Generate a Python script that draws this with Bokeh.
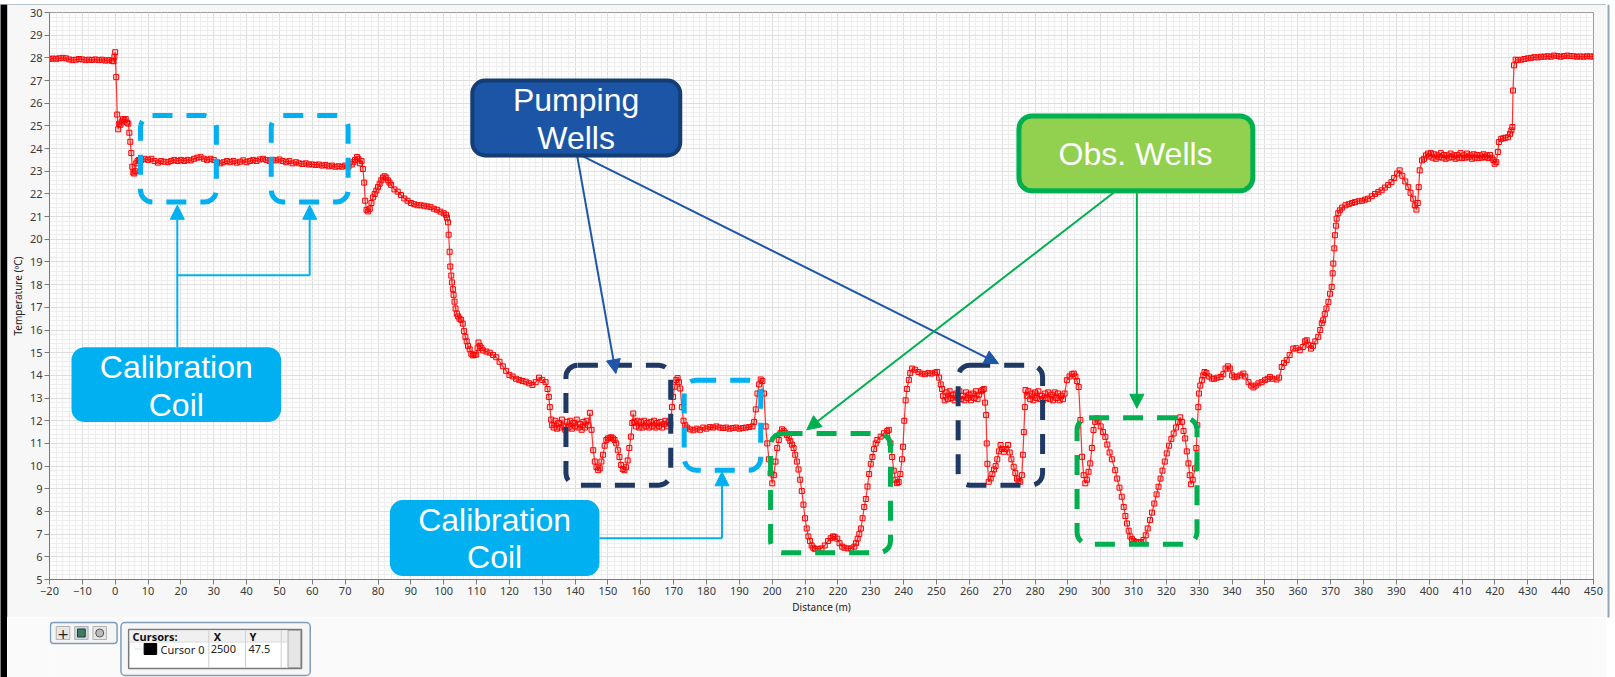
from bokeh.plotting import figure
from bokeh.models import Range1d, SingleIntervalTicker, BoxAnnotation, Label, Arrow, NormalHead
from bokeh.layouts import column, row
from bokeh.embed import file_html
from bokeh.resources import INLINE
from bokeh.core.properties import value

# ---------------- DTS temperature profile ----------------
# lead-in (-20 m .. 7.6 m)
dist_a = [-20, -19, -18, -17, -16, -15, -14, -13, -12, -11,
          -10, -9, -8, -7, -6, -5, -4, -3, -2, -1,
          -0.5, -0.25, 0, 0.3, 0.6, 0.9, 1.2, 1.6, 2.0, 2.4,
          2.8, 3.2, 3.6, 4.0, 4.3, 4.6, 4.9, 5.2, 5.5, 5.8,
          6.1, 6.4, 6.8, 7.2, 7.6]
temp_a = [27.95, 27.97, 27.96, 27.98, 28.0, 27.98, 27.93, 27.9, 27.92, 27.95,
          27.93, 27.9, 27.92, 27.91, 27.93, 27.9, 27.92, 27.88, 27.9, 27.87,
          27.85, 28.05, 28.25, 27.15, 25.5, 24.85, 25.1, 25.05, 25.2, 25.3,
          25.25, 25.3, 25.15, 25.1, 24.7, 24.3, 23.8, 23.2, 22.95, 22.9,
          23.0, 23.35, 23.45, 23.5, 23.45]
# calibration coil plateau (8 m .. 72 m)
dist_b = [8, 9, 10, 11, 12, 13, 14, 15, 16, 17,
          18, 19, 20, 21, 22, 23, 24, 25, 26, 27,
          28, 29, 30, 31, 32, 33, 34, 35, 36, 37,
          38, 39, 40, 41, 42, 43, 44, 45, 46, 47,
          48, 49, 50, 51, 52, 53, 54, 55, 56, 57,
          58, 59, 60, 61, 62, 63, 64, 65, 66, 67,
          68, 69, 70, 71, 72]
temp_b = [23.5, 23.55, 23.5, 23.55, 23.45, 23.38, 23.45, 23.42, 23.4, 23.45,
          23.5, 23.45, 23.5, 23.45, 23.5, 23.48, 23.55, 23.6, 23.62, 23.55,
          23.5, 23.55, 23.5, 23.4, 23.35, 23.4, 23.45, 23.4, 23.45, 23.38,
          23.42, 23.48, 23.4, 23.45, 23.5, 23.45, 23.52, 23.55, 23.5, 23.45,
          23.5, 23.48, 23.52, 23.45, 23.4, 23.45, 23.35, 23.4, 23.35, 23.32,
          23.35, 23.3, 23.3, 23.28, 23.3, 23.25, 23.28, 23.22, 23.25, 23.2,
          23.22, 23.2, 23.25, 23.2, 23.3]
# descent (72.5 m .. 132.7 m)
dist_c = [72.5, 73, 73.6, 74, 74.5, 75, 75.4, 75.8, 76.1, 76.5,
          77, 77.5, 78, 78.5, 79, 79.5, 80, 80.5, 81, 81.5,
          82, 82.5, 83, 83.5, 84, 85, 86, 87, 88, 89,
          90, 91, 92, 93, 94, 95, 96, 97, 98, 99,
          100, 100.7, 101, 101.3, 101.5, 101.8, 102, 102.3, 102.5, 102.8,
          103, 103.3, 103.6, 104, 104.4, 104.8, 105.3, 105.8, 106.2, 106.6,
          107, 107.4, 107.9, 108.4, 108.9, 109.4, 109.9, 110.3, 110.6, 111,
          111.5, 112, 113, 114, 115, 116, 117, 118, 119, 120,
          121, 122, 123, 124, 125, 126, 127, 128, 129, 130,
          131, 131.6, 132, 132.3, 132.7]
temp_c = [23.4, 23.5, 23.63, 23.55, 23.35, 23.45, 23.1, 22.5, 21.7, 21.3,
          21.23, 21.35, 21.6, 21.85, 22.0, 22.15, 22.3, 22.45, 22.6, 22.72,
          22.78, 22.72, 22.6, 22.5, 22.4, 22.2, 22.1, 21.95, 21.8, 21.7,
          21.6, 21.55, 21.5, 21.5, 21.48, 21.45, 21.42, 21.35, 21.3, 21.22,
          21.15, 21.08, 20.95, 20.75, 20.2, 19.45, 18.8, 18.4, 18.1, 17.8,
          17.55, 17.25, 16.95, 16.72, 16.6, 16.5, 16.45, 16.28, 15.95, 15.7,
          15.5, 15.3, 15.15, 14.95, 14.88, 14.9, 14.92, 15.2, 15.45, 15.3,
          15.2, 15.1, 15.05, 15.0, 14.9, 14.8, 14.6, 14.4, 14.2, 14.02,
          13.95, 13.85, 13.8, 13.75, 13.72, 13.65, 13.58, 13.7, 13.9, 13.8,
          13.7, 13.4, 13.05, 12.6, 12.05]
# pumping well 1 (133 m .. 173.5 m)
dist_d = [133, 133.5, 134, 134.5, 135, 135.5, 136, 136.5, 137, 137.5,
          138, 138.5, 139, 139.5, 140, 140.5, 141, 141.5, 142, 142.5,
          143, 143.5, 144, 144.5,
          145, 145.5, 146, 146.5, 147, 147.5, 148, 148.5, 149, 149.5,
          150, 150.5, 151, 151.5, 152, 152.5, 153, 153.5, 154, 154.5,
          155, 155.5, 156, 156.5, 157,
          157.4, 157.7,
          158, 158.5, 159, 159.5, 160, 160.5, 161, 161.5, 162, 162.5,
          163, 163.5, 164, 164.5, 165, 165.5, 166, 166.5, 167, 167.5,
          168, 168.5, 169,
          169.5, 169.8, 170.3, 170.8, 171.2, 171.6, 172, 172.5, 173, 173.5]
temp_d = [11.8, 11.7, 12.0, 11.65, 11.9, 11.7, 12.05, 11.75, 11.6, 11.95,
          11.7, 12.0, 11.65, 11.9, 11.75, 12.05, 11.7, 11.85, 11.6, 11.95,
          11.7, 12.0, 11.8, 12.35,
          11.6, 10.7, 10.2, 9.95, 9.82, 9.9, 10.2, 10.5, 10.9, 11.15,
          11.22, 11.25, 11.27, 11.22, 11.15, 11.0, 10.7, 10.4, 10.05, 9.87,
          9.82, 9.95, 10.25, 10.8, 11.3,
          11.9, 12.32,
          11.95, 11.75, 12.0, 11.7, 11.95, 11.7, 12.0, 11.75, 11.9, 11.7,
          11.95, 11.75, 12.0, 11.7, 11.9, 11.75, 11.95, 11.7, 11.85, 12.0,
          11.75, 11.95, 11.85,
          12.6, 13.05, 13.5, 13.8, 13.88, 13.7, 13.42, 12.6, 12.0, 11.8]
# calibration coil 2 and observation well 1 (174 m .. 251.3 m)
dist_e = [174, 175, 176, 177, 178, 179, 180, 181, 182, 183,
          184, 185, 186, 187, 188, 189, 190, 191, 192, 193,
          194,
          194.5, 195, 195.5, 196, 196.5, 197, 197.5, 198, 198.5, 199,
          199.5, 200, 200.5, 201, 201.5, 202, 202.5, 203, 203.5, 204,
          204.5, 205, 205.5, 206, 206.5, 207, 207.5, 208, 208.5, 209,
          209.5, 210, 210.5, 211, 211.5, 212, 212.5, 213, 214, 215,
          216, 217, 217.8, 218.5, 219, 219.8, 220.5, 221.3, 222, 223,
          224, 225, 225.5, 226, 226.5, 227, 227.5, 228, 228.5, 229,
          229.5, 230, 230.5, 231, 231.5, 232, 233, 234, 235, 235.5,
          236, 236.5, 237, 237.5, 238, 238.5, 239, 239.5, 239.8, 240.2,
          240.6, 241, 241.6, 242, 242.6, 243.5, 244.5, 245.5, 246.5, 247.5,
          248.5, 249.5, 250.2, 250.8, 251.3]
temp_e = [11.7, 11.62, 11.58, 11.65, 11.6, 11.7, 11.65, 11.72, 11.7, 11.75,
          11.7, 11.68, 11.7, 11.65, 11.68, 11.7, 11.65, 11.68, 11.7, 11.72,
          11.75,
          11.95, 12.5, 13.2, 13.6, 13.82, 13.75, 13.2, 11.75, 11.0, 10.3,
          9.68, 9.24, 9.6, 10.2, 10.8, 11.15, 11.45, 11.62, 11.55, 11.45,
          11.37, 11.25, 11.1, 10.95, 10.8, 10.5, 10.2, 9.85, 9.4, 8.9,
          8.3, 7.7, 7.25, 6.9, 6.7, 6.5, 6.4, 6.35, 6.35, 6.37,
          6.5, 6.7, 6.82, 6.9, 6.88, 6.8, 6.6, 6.45, 6.4, 6.37,
          6.37, 6.45, 6.6, 6.8, 7.0, 7.25, 7.7, 8.2, 8.55, 9.1,
          9.65, 10.1, 10.4, 10.75, 11.0, 11.15, 11.3, 11.45, 11.55, 11.6,
          11.0, 10.4, 9.8, 9.4, 9.25, 9.3, 9.65, 10.3, 10.85, 12.0,
          12.9, 13.4, 13.8, 14.1, 14.3, 14.25, 14.15, 14.08, 14.05, 14.1,
          14.08, 14.12, 14.15, 13.9, 13.6]
# pumping well 2 (251.7 m .. 289 m)
dist_f = [251.7,
          252, 252.5, 253, 253.5, 254, 254.5, 255, 255.5, 256, 256.5,
          257, 257.5, 258, 258.5, 259, 259.5, 260, 260.5, 261, 261.5,
          262, 262.5, 263, 263.5, 264,
          264.4, 264.8, 265.1, 265.3, 265.5, 265.9, 266.5, 267, 267.5, 268,
          268.5, 269, 269.5, 270, 270.5, 271, 271.8, 272.3, 272.8, 273.5,
          274, 274.5, 275, 275.5, 276, 276.3, 276.6, 276.9, 277.1,
          277.5, 278, 278.5, 279, 279.5, 280, 280.5, 281, 281.5, 282,
          282.5, 283, 283.5, 284, 284.5, 285, 285.5, 286, 286.5, 287,
          287.5, 288, 288.5, 289]
temp_f = [13.4,
          13.1, 12.9, 13.25, 12.95, 13.3, 13.0, 13.15, 12.9, 13.2, 13.0,
          13.3, 12.95, 13.1, 12.9, 13.25, 13.0, 13.15, 12.9, 13.2, 13.0,
          13.3, 12.95, 13.15, 13.3, 13.35,
          13.4, 12.8, 12.25, 11.0, 10.1, 9.31, 9.45, 9.65, 9.85, 10.0,
          10.3, 10.65, 10.93, 10.75, 10.63, 10.75, 10.93, 10.6, 10.3, 9.97,
          9.7, 9.45, 9.35, 9.31, 9.6, 10.5, 11.5, 12.6, 13.35,
          13.1, 13.3, 12.95, 13.2, 12.9, 13.25, 13.0, 13.3, 12.95, 13.1,
          12.9, 13.2, 13.0, 13.25, 12.95, 13.15, 12.9, 13.25, 13.0, 13.2,
          12.9, 13.1, 12.95, 13.2]
# observation well 2 and the rise (289.7 m .. 399 m)
dist_g = [289.7, 290.5, 291.2, 291.8, 292.3, 292.8, 293.3, 293.8, 294.3, 294.8,
          295.3, 295.8, 296.3, 296.8, 297.3, 297.8, 298.3, 298.8, 299.3, 300,
          300.7, 301.4, 302, 302.7, 303.4, 304.4, 305, 305.7, 306.4, 307,
          307.5, 308, 308.5, 309, 309.5, 310, 310.7, 311.5, 312.2, 313,
          313.7, 314.3, 315, 315.6, 316.3, 317, 317.6, 318.2, 318.8, 319.5,
          320.1, 320.8, 321.5, 322.2, 322.9, 323.5, 324.2, 324.7, 325.2, 325.7,
          326.2, 326.7, 327.1, 327.5, 328, 328.7, 329.1, 329.4, 329.7, 329.9,
          330.3, 330.8, 331.2, 331.6, 332.2, 333, 333.8, 334.5, 335.5, 336.5,
          337.3, 338, 338.7, 339.3, 340, 340.7, 341.5, 342.5, 343.4, 344,
          345, 345.8, 346.5, 347.2, 348, 349, 350, 350.8, 351.5, 352.3,
          353.5, 354.3, 355.1, 355.8, 356.6, 357.5, 358.6, 359.5, 360.6, 361.5,
          362.2, 362.7, 363.3, 364, 364.6, 365.3, 366.2, 366.8, 367.3, 367.7,
          368.2, 368.7, 369.3, 369.8, 370.3, 370.6, 370.8, 371.1, 371.3, 371.6,
          371.8, 372.3, 372.8, 373.5, 374.5, 375.5, 376.5, 377.4, 378.5, 379.5,
          380.5, 381.4, 382.5, 383.5, 384.5, 385.5, 386.5, 387.5, 388.5, 389.3,
          390.2, 391, 391.8, 392.7, 393.6, 394.3, 395.1, 395.6, 396.1, 396.5,
          396.8, 397.1, 397.8, 398.4, 399]
temp_g = [13.79, 13.95, 14.05, 14.08, 13.95, 13.75, 13.49, 12.03, 10.41, 9.6,
          9.24, 9.4, 9.75, 10.12, 10.8, 11.59, 11.95, 12.1, 12.0, 11.75,
          11.5, 11.29, 10.95, 10.6, 10.3, 9.82, 9.45, 9.05, 8.65, 8.2,
          7.8, 7.47, 7.15, 6.9, 6.78, 6.7, 6.65, 6.62, 6.65, 6.74,
          6.95, 7.25, 7.62, 7.95, 8.35, 8.75, 9.09, 9.45, 9.8, 10.2,
          10.56, 10.9, 11.2, 11.44, 11.7, 11.95, 12.15, 11.95, 11.55, 11.22,
          10.65, 10.12, 9.6, 9.2, 9.4, 9.9, 10.8, 11.8, 12.6, 13.2,
          13.55, 13.79, 14.0, 14.15, 14.1, 13.95, 13.86, 13.85, 13.9, 13.93,
          14.05, 14.3, 14.4, 14.3, 14.0, 13.92, 13.95, 14.0, 14.08, 13.95,
          13.7, 13.55, 13.47, 13.55, 13.65, 13.7, 13.79, 13.85, 13.93, 13.85,
          13.82, 13.9, 14.37, 14.55, 14.67, 14.9, 15.18, 15.2, 15.11, 15.25,
          15.5, 15.55, 15.35, 15.18, 15.3, 15.5, 15.7, 16.0, 16.3, 16.43,
          16.7, 16.95, 17.24, 17.6, 17.9, 18.5, 18.93, 19.6, 20.18, 20.6,
          20.91, 21.15, 21.28, 21.4, 21.5, 21.55, 21.6, 21.64, 21.68, 21.7,
          21.75, 21.79, 21.9, 22.0, 22.08, 22.16, 22.28, 22.4, 22.52, 22.7,
          22.9, 23.04, 22.8, 22.55, 22.3, 22.05, 21.79, 21.5, 21.31, 21.6,
          22.3, 23.04, 23.48, 23.55, 23.7]
# far-end calibration plateau and lead-out (399.6 m .. 450 m)
dist_h = [399.6,
          400, 400.5, 401, 401.5, 402, 402.5, 403, 403.5, 404, 404.5,
          405, 405.5, 406, 406.5, 407, 407.5, 408, 408.5, 409, 409.5,
          410, 410.5, 411, 411.5, 412, 412.5, 413, 413.5, 414, 414.5,
          415, 415.5, 416, 416.5, 417, 417.5, 418, 418.5, 419, 419.5,
          419.9, 420.4, 420.9, 421.2, 421.9, 422.5, 423.2, 424, 424.6, 425,
          425.3, 425.5, 425.8, 426.3,
          427, 428, 429, 430, 431, 432, 433, 434, 435, 436,
          437, 438, 439, 440, 441, 442, 443, 444, 445, 446,
          447, 448, 449, 450]
temp_h = [23.78,
          23.65, 23.8, 23.6, 23.75, 23.55, 23.7, 23.62, 23.8, 23.6, 23.72,
          23.55, 23.7, 23.6, 23.78, 23.62, 23.7, 23.55, 23.72, 23.6, 23.8,
          23.58, 23.7, 23.6, 23.78, 23.62, 23.7, 23.55, 23.75, 23.6, 23.72,
          23.58, 23.7, 23.6, 23.75, 23.62, 23.7, 23.58, 23.72, 23.6, 23.5,
          23.33, 23.4, 23.85, 24.29, 24.43, 24.45, 24.48, 24.5, 24.65, 24.8,
          24.95, 26.56, 27.67, 27.92,
          27.9, 27.92, 27.95, 27.98, 28.0, 28.03, 28.02, 28.05, 28.05, 28.07,
          28.05, 28.1, 28.08, 28.05, 28.08, 28.1, 28.08, 28.07, 28.05, 28.06,
          28.05, 28.07, 28.06, 28.06]

segments = [(dist_a, temp_a), (dist_b, temp_b), (dist_c, temp_c), (dist_d, temp_d),
            (dist_e, temp_e), (dist_f, temp_f), (dist_g, temp_g), (dist_h, temp_h)]
distance_m, temperature_c = [], []
for i, (ds, ts) in enumerate(segments):
    assert len(ds) == len(ts), ("segment", i, len(ds), len(ts))
    distance_m += ds
    temperature_c += ts

# ---------------- annotations (data coordinates) ----------------
x_ticks_interval = 10
y_ticks_interval = 1

# dashed highlight boxes: left, right, bottom, top
calib_boxes = [(7.7, 30.8, 21.64, 25.46), (47.5, 70.9, 21.64, 25.46), (173.2, 196.5, 9.82, 13.79)]
pump_boxes = [(137.2, 169.1, 9.16, 14.45), (256.6, 282.3, 9.16, 14.45)]
obs_boxes = [(199.5, 236.0, 6.18, 11.44), (292.8, 329.3, 6.55, 12.13)]

# callout boxes: left, right, bottom, top, fill, border, border width
callout_boxes = [(-13.3, 50.5, 11.94, 15.24, "#00b0f0", None, 0),
                 (83.6, 147.4, 5.15, 8.5, "#00b0f0", None, 0),
                 (108.7, 172.0, 23.7, 27.0, "#1d55a6", "#133d73", 4),
                 (275.1, 346.3, 22.14, 25.44, "#92d050", "#00b050", 5)]
callout_texts = ["Calibration", "Coil", "Calibration", "Coil", "Pumping", "Wells", "Obs. Wells"]
callout_text_x = [18.6, 18.6, 115.5, 115.5, 140.3, 140.3, 310.6]
callout_text_y = [14.37, 12.70, 7.63, 5.99, 26.16, 24.47, 23.75]

# connector lines: x0, y0, x1, y1, colour, arrow head?
connectors = [(18.9, 15.24, 18.9, 21.5, "#00b0f0", True),
              (18.9, 18.41, 59.2, 18.41, "#00b0f0", False),
              (59.2, 18.41, 59.2, 21.5, "#00b0f0", True),
              (147.4, 6.82, 184.7, 6.82, "#00b0f0", False),
              (184.7, 6.82, 184.7, 9.75, "#00b0f0", True),
              (140.6, 23.7, 152.4, 14.08, "#1f56a8", True),
              (141.8, 23.7, 268.9, 14.52, "#1f56a8", True),
              (304.3, 22.1, 210.5, 11.6, "#00b050", True),
              (311.0, 22.1, 311.0, 12.55, "#00b050", True)]

cursor_names = ["Cursor 0"]
cursor_x = ["2500"]
cursor_y = ["47.5"]


def strip(w, h, color):
    s = figure(width=w, height=h, toolbar_location=None, output_backend="svg", min_border=0,
               x_axis_location=None, y_axis_location=None,
               background_fill_color=color, border_fill_color=color)
    s.outline_line_color = None
    s.grid.visible = False
    return s


# ---------------- main chart (page x 7..1606, y 4..617) ----------------
p = figure(width=1599, height=613, x_range=Range1d(-20, 450), y_range=Range1d(5, 30),
           toolbar_location=None, output_backend="svg",
           min_border_left=39, min_border_right=13, min_border_top=8, min_border_bottom=38,
           background_fill_color="#fdfdfd", border_fill_color="#f7f7f7")
p.styles = {"outline": "1px solid #a7b4c3", "outline-offset": "-1px"}
p.outline_line_color = "#9c9c9c"

xt = SingleIntervalTicker(interval=x_ticks_interval, num_minor_ticks=5)
yt = SingleIntervalTicker(interval=y_ticks_interval, num_minor_ticks=5)
p.xaxis.ticker = xt
p.xgrid.ticker = xt
p.yaxis.ticker = yt
p.ygrid.ticker = yt
p.grid.grid_line_color = "#dedede"
p.grid.minor_grid_line_color = "#eeeeee"

p.xaxis.axis_label = "Distance (m)"
p.yaxis.axis_label = "Temperature (ºC)"
p.axis.axis_label_text_font_style = "normal"
p.axis.axis_label_text_font_size = "10px"
p.axis.axis_label_text_font = "Noto Sans"
p.axis.axis_label_text_color = "#222222"
p.axis.major_label_text_font = "Noto Sans"
p.axis.major_label_text_font_size = "11px"
p.axis.major_label_text_color = "#3a3a3a"
p.axis.major_tick_out = 5
p.axis.major_tick_in = 0
p.axis.minor_tick_out = 0
p.axis.minor_tick_in = 0
p.axis.major_label_standoff = 2
p.axis.axis_label_standoff = 2
p.axis.axis_line_color = "#7a7a7a"
p.axis.major_tick_line_color = "#7a7a7a"

p.line(distance_m, temperature_c, line_color="#ff0000", line_width=1.2, line_alpha=0.8)
p.scatter(distance_m, temperature_c, marker="square", size=5, line_color="#ff0000",
          line_width=1, fill_color="#ff0000", fill_alpha=0.15)

for boxes, col in ((calib_boxes, "#00b0f0"), (pump_boxes, "#1f3864"), (obs_boxes, "#00b050")):
    for (l, r, b, t) in boxes:
        p.add_layout(BoxAnnotation(left=l, right=r, bottom=b, top=t, fill_alpha=0,
                                   line_color=col, line_alpha=1, line_width=5, line_dash="20 14",
                                   border_radius=12))

for (x0, y0, x1, y1, col, head) in connectors:
    end = NormalHead(size=14, fill_color=col, line_color=col) if head else None
    p.add_layout(Arrow(end=end, x_start=x0, y_start=y0, x_end=x1, y_end=y1,
                       line_color=col, line_width=2))

for (l, r, b, t, fc, lc, lw) in callout_boxes:
    p.add_layout(BoxAnnotation(left=l, right=r, bottom=b, top=t, fill_color=fc, fill_alpha=1,
                               line_color=lc, line_alpha=1, line_width=lw, border_radius=13))

for txt, tx, ty in zip(callout_texts, callout_text_x, callout_text_y):
    p.add_layout(Label(x=tx, y=ty, text=txt, text_font="Liberation Sans", text_font_size="32px",
                       text_color="white", text_align="center", text_baseline="alphabetic"))

# ---------------- cursor panel below the chart (page pixel coordinates) ----------------
p2 = figure(width=1599, height=60, x_range=Range1d(7, 1606), y_range=Range1d(677, 617),
            toolbar_location=None, output_backend="svg", min_border=0,
            x_axis_location=None, y_axis_location=None,
            background_fill_color="#fafafa", border_fill_color="#fafafa")
p2.outline_line_color = None
p2.grid.visible = False

p2.add_layout(BoxAnnotation(left=8, right=77, top=622, bottom=643, fill_color="#f4f4f4", fill_alpha=1,
                            line_color="#7f9db9", line_alpha=1, line_width=1.5, border_radius=3,
                            level="underlay"))
p2.quad(left=[14, 33, 52], right=[28, 47, 66], top=[626, 626, 626], bottom=[639, 639, 639],
        fill_color=["#e6e6e6", "#cdd6dc", "#e6e6e6"], line_color="#b4b4b4")
p2.text(x=[21], y=[633], text=["+"], text_font=value("DejaVu Sans"), text_font_size="14px",
        text_align="center", text_baseline="middle", text_color="#222222")
p2.quad(left=[36], right=[44], top=[628.5], bottom=[636.5], fill_color="#3e7c5a", line_color="#1e3c5a")
p2.scatter(x=[59], y=[632.5], marker="circle", size=8, fill_color="#bbbbbb", line_color="#555555")

p2.add_layout(BoxAnnotation(left=81, right=277, top=622, bottom=675, fill_color="#f6f6f6", fill_alpha=1,
                            line_color="#7f9db9", line_alpha=1, line_width=1.5, border_radius=4,
                            level="underlay"))
p2.quad(left=[89], right=[268], top=[629], bottom=[668], fill_color="#ffffff", line_color="#7a7a7a",
        line_width=1.5)
p2.quad(left=[90], right=[253], top=[630], bottom=[641], fill_color="#f0f0f0", line_color=None)
p2.segment(x0=[172, 210, 247], y0=[630, 630, 630], x1=[172, 210, 247], y1=[667, 667, 667],
           line_color="#cfcfcf", line_width=1)
p2.segment(x0=[90], y0=[641.5], x1=[253], y1=[641.5], line_color="#d6d6d6", line_width=1)
p2.quad(left=[254], right=[267], top=[630], bottom=[667], fill_color="#e6e6e6", line_color="#a8a8a8")
p2.text(x=[93, 177, 214], y=[635.5, 635.5, 635.5], text=["Cursors:", "X", "Y"],
        text_font=value("Noto Sans"), text_font_size="11px", text_font_style="bold",
        text_baseline="middle", text_color="#111111")
p2.quad(left=[105], right=[118], top=[643], bottom=[654], fill_color="#000000", line_color="#000000")
p2.segment(x0=[96], y0=[648.5], x1=[104], y1=[648.5], line_color="#bbbbbb", line_dash="1 1")
p2.text(x=[122], y=[648.5], text=cursor_names, text_font=value("Noto Sans"), text_font_size="11px",
        text_baseline="middle", text_color="#222222")
p2.text(x=[174], y=[648.5], text=cursor_x, text_font=value("Noto Sans"), text_font_size="11px",
        text_baseline="middle", text_color="#222222")
p2.text(x=[213], y=[648.5], text=cursor_y, text_font=value("Noto Sans"), text_font_size="11px",
        text_baseline="middle", text_color="#222222")

# window edges (screenshot frame)
top_strip = strip(1615, 4, "#000000")
left_strip = strip(7, 673, "#000000")
right_strip = strip(9, 673, "#ffffff")
right_strip.x_range = Range1d(1606, 1615)
right_strip.y_range = Range1d(677, 4)
right_strip.segment(x0=[1608], y0=[4], x1=[1608], y1=[617], line_color="#8fa6bd", line_width=2)

layout = column(top_strip, row(left_strip, column(p, p2), right_strip))
open("out.html", "w").write(file_html(layout, INLINE))
